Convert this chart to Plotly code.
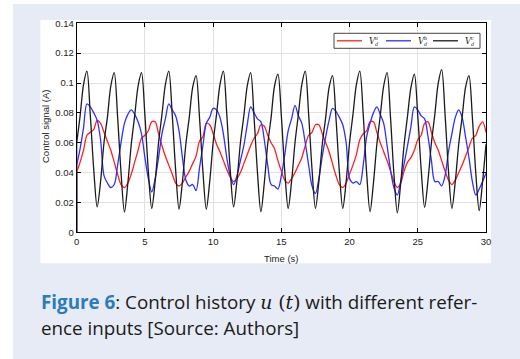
import plotly.graph_objects as go

W, H = 520, 359

# ---- data ----
time_s = [i * 0.25 for i in range(121)]

v_a = [0.040, 0.047, 0.055, 0.065, 0.067, 0.069, 0.075, 0.073, 0.067, 0.061,
       0.055, 0.047, 0.039, 0.032, 0.030, 0.033, 0.039, 0.047, 0.055, 0.063,
       0.065, 0.068, 0.074, 0.074, 0.066, 0.058, 0.051, 0.045, 0.039, 0.033,
       0.031, 0.033, 0.037, 0.041, 0.046, 0.051, 0.061, 0.064, 0.073, 0.072,
       0.066, 0.059, 0.054, 0.048, 0.042, 0.037, 0.034, 0.036, 0.040, 0.046,
       0.052, 0.058, 0.063, 0.066, 0.072, 0.071, 0.065, 0.060, 0.056, 0.048,
       0.041, 0.035, 0.033, 0.036, 0.040, 0.045, 0.050, 0.058, 0.065, 0.067,
       0.072, 0.072, 0.066, 0.060, 0.054, 0.046, 0.038, 0.032, 0.030, 0.033,
       0.039, 0.045, 0.052, 0.062, 0.066, 0.068, 0.074, 0.074, 0.067, 0.060,
       0.054, 0.048, 0.041, 0.034, 0.030, 0.033, 0.041, 0.047, 0.050, 0.055,
       0.062, 0.065, 0.073, 0.074, 0.067, 0.060, 0.055, 0.048, 0.041, 0.035,
       0.032, 0.035, 0.040, 0.045, 0.051, 0.057, 0.063, 0.065, 0.071, 0.074,
       0.067]

v_b = [0.045, 0.056, 0.070, 0.086, 0.084, 0.080, 0.075, 0.062, 0.038, 0.033,
       0.030, 0.032, 0.045, 0.060, 0.073, 0.079, 0.082, 0.079, 0.074, 0.066,
       0.050, 0.036, 0.027, 0.036, 0.050, 0.066, 0.076, 0.086, 0.082, 0.078,
       0.068, 0.050, 0.035, 0.031, 0.032, 0.028, 0.043, 0.058, 0.073, 0.077,
       0.083, 0.082, 0.077, 0.066, 0.050, 0.038, 0.032, 0.038, 0.048, 0.058,
       0.072, 0.084, 0.080, 0.076, 0.074, 0.062, 0.045, 0.032, 0.031, 0.029,
       0.038, 0.052, 0.068, 0.076, 0.085, 0.078, 0.073, 0.060, 0.045, 0.031,
       0.026, 0.036, 0.051, 0.064, 0.075, 0.083, 0.081, 0.077, 0.072, 0.060,
       0.036, 0.033, 0.034, 0.032, 0.045, 0.064, 0.073, 0.080, 0.084, 0.079,
       0.073, 0.058, 0.042, 0.030, 0.025, 0.034, 0.046, 0.058, 0.071, 0.084,
       0.082, 0.078, 0.076, 0.064, 0.048, 0.034, 0.034, 0.031, 0.038, 0.054,
       0.066, 0.077, 0.082, 0.077, 0.064, 0.050, 0.034, 0.025, 0.029, 0.034,
       0.0395]

v_c = [0.060, 0.078, 0.099, 0.108, 0.078, 0.042, 0.017, 0.034, 0.060, 0.077,
       0.098, 0.107, 0.077, 0.040, 0.0136, 0.033, 0.059, 0.078, 0.098, 0.107,
       0.078, 0.041, 0.016, 0.034, 0.060, 0.079, 0.099, 0.108, 0.079, 0.042,
       0.0155, 0.034, 0.059, 0.077, 0.097, 0.105, 0.077, 0.041, 0.0155, 0.034,
       0.060, 0.079, 0.099, 0.108, 0.079, 0.042, 0.017, 0.035, 0.060, 0.078,
       0.098, 0.107, 0.077, 0.040, 0.0138, 0.033, 0.059, 0.077, 0.098, 0.106,
       0.078, 0.041, 0.016, 0.034, 0.060, 0.079, 0.099, 0.108, 0.079, 0.042,
       0.016, 0.034, 0.059, 0.077, 0.097, 0.105, 0.077, 0.041, 0.016, 0.034,
       0.060, 0.079, 0.099, 0.108, 0.079, 0.040, 0.0138, 0.033, 0.059, 0.078,
       0.098, 0.107, 0.077, 0.039, 0.013, 0.033, 0.059, 0.078, 0.097, 0.106,
       0.078, 0.042, 0.0167, 0.035, 0.060, 0.079, 0.100, 0.109, 0.079, 0.041,
       0.016, 0.034, 0.059, 0.077, 0.097, 0.105, 0.077, 0.040, 0.0145, 0.034,
       0.059]

series_base = "V"
series_sup = ["a", "b", "c"]
series_sub = "d"
series_colors = ["#ff1f1f", "#2f2fff", "#1a1a1a"]

x_ticks = [0, 5, 10, 15, 20, 25, 30]
y_ticks = [0, 0.02, 0.04, 0.06, 0.08, 0.1, 0.12, 0.14]
y_ticklabels = ["0", "0.02", "0.04", "0.06", "0.08", "0.1", "0.12", "0.14"]

# ---- figure ----
fig = go.Figure()
px_x = lambda p: p / W
px_y = lambda p: 1 - p / H

for vals, color in zip([v_a, v_b, v_c], series_colors):
    # initial step from zero at t = 0
    fig.add_trace(go.Scatter(x=[time_s[0], time_s[0]], y=[0, vals[0]], mode="lines",
                             line=dict(color=color, width=1.2), showlegend=False,
                             hoverinfo="skip", cliponaxis=False))

for vals, sup, color in zip([v_a, v_b, v_c], series_sup, series_colors):
    fig.add_trace(go.Scatter(x=time_s, y=vals, mode="lines",
                             name=f"<i>{series_base}</i><sup>{sup}</sup><sub>{series_sub}</sub>",
                             showlegend=False,
                             line=dict(color=color, width=1.3, shape="spline",
                                       smoothing=0.9)))

axis_common = dict(showline=True, linecolor="black", linewidth=1, mirror="ticks",
                   ticks="inside", ticklen=4, tickcolor="black", tickwidth=1,
                   showgrid=True, gridcolor="#e2e2e2", gridwidth=1, zeroline=False,
                   automargin=False,
                   tickfont=dict(family="Liberation Sans, Arial", size=9.5, color="#222"))

shapes = [
    dict(type="rect", xref="paper", yref="paper", x0=px_x(13), x1=1,
         y0=0, y1=px_y(4), fillcolor="#e7ebf5", line=dict(width=0), layer="below"),
    dict(type="rect", xref="paper", yref="paper", x0=px_x(40.3), x1=px_x(491),
         y0=px_y(263.3), y1=px_y(20), fillcolor="white", line=dict(width=0),
         layer="below"),
    # legend box
    dict(type="rect", xref="paper", yref="paper", x0=px_x(334), x1=px_x(480),
         y0=px_y(48.3), y1=px_y(33.3), fillcolor="white",
         line=dict(color="#444", width=1), layer="above"),
]

annotations = [
    dict(text="Control signal (A)", textangle=-90, xref="paper", yref="paper",
         x=px_x(45), y=px_y(127), showarrow=False, xanchor="center", yanchor="middle",
         font=dict(family="Liberation Sans, Arial", size=9.5, color="#222")),
    dict(text="Time (s)", xref="paper", yref="paper",
         x=px_x(281), y=px_y(258), showarrow=False, xanchor="center", yanchor="middle",
         font=dict(family="Liberation Sans, Arial", size=9.5, color="#222")),
    dict(text="<b><span style='color:#2b7bbd'>Figure 6</span></b>: Control history "
              "<span style='font-family:DejaVu Serif'><i>u</i> (<i>t</i>)</span>"
              " with different refer-",
         xref="paper", yref="paper", x=px_x(39), y=px_y(302), showarrow=False,
         xanchor="left", yanchor="middle",
         font=dict(family="Open Sans", size=18.8, color="#1a1a1a")),
    dict(text="ence inputs [Source: Authors]",
         xref="paper", yref="paper", x=px_x(39), y=px_y(328), showarrow=False,
         xanchor="left", yanchor="middle",
         font=dict(family="Open Sans", size=18.8, color="#1a1a1a")),
]

# legend entries (line sample + V with stacked super/subscript)
legend_starts = [337, 386, 433]
for x0, sup, color in zip(legend_starts, series_sup, series_colors):
    shapes.append(dict(type="line", xref="paper", yref="paper",
                       x0=px_x(x0), x1=px_x(x0 + 25), y0=px_y(40.8), y1=px_y(40.8),
                       line=dict(color=color, width=1.3), layer="above"))
    annotations.append(dict(text=f"<i>{series_base}</i>", xref="paper", yref="paper",
                            x=px_x(x0 + 29.5), y=px_y(41), showarrow=False,
                            xanchor="left", yanchor="middle",
                            font=dict(family="DejaVu Serif", size=8.5, color="#222")))
    annotations.append(dict(text=f"<i>{sup}</i>", xref="paper", yref="paper",
                            x=px_x(x0 + 35.5), y=px_y(38.3), showarrow=False,
                            xanchor="left", yanchor="middle",
                            font=dict(family="DejaVu Serif", size=5, color="#222")))
    annotations.append(dict(text=f"<i>{series_sub}</i>", xref="paper", yref="paper",
                            x=px_x(35.5 + x0), y=px_y(43.8), showarrow=False,
                            xanchor="left", yanchor="middle",
                            font=dict(family="DejaVu Serif", size=5, color="#222")))

fig.update_layout(
    width=W, height=H,
    margin=dict(l=0, r=0, t=0, b=0, pad=0, autoexpand=False),
    paper_bgcolor="white", plot_bgcolor="white",
    xaxis=dict(range=[0, 30], tickvals=x_ticks, domain=[px_x(76.7), px_x(486)],
               **axis_common),
    yaxis=dict(range=[0, 0.14], tickvals=y_ticks, ticktext=y_ticklabels,
               domain=[px_y(232.3), px_y(23.3)], **axis_common),
    showlegend=False,
    shapes=shapes,
    annotations=annotations,
)

fig.write_html("out.html", config={"displayModeBar": False},
               post_script="document.body.style.margin='0';document.body.style.overflow='hidden';")
